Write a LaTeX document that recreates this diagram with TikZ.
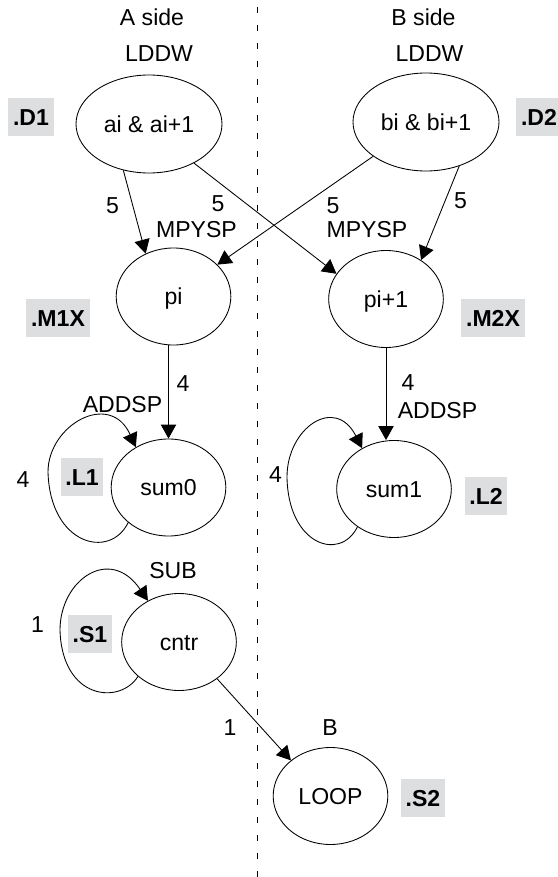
\documentclass[tikz,border=0pt]{standalone}
\usepackage{fontspec}
\setmainfont{Liberation Sans}
\usetikzlibrary{shapes.geometric,arrows.meta}
\definecolor{boxgray}{RGB}{221,222,224}
\begin{document}
\begin{tikzpicture}[x=0.75pt,y=-0.75pt,
  txt/.style={font=\fontsize{17.3}{20}\selectfont},
  lbl/.style={txt,anchor=base,inner sep=0pt},
  unitbox/.style={font=\fontsize{17.3}{20}\selectfont\bfseries,fill=boxgray,
    inner xsep=3.5pt,inner ysep=8pt,text height=12.4pt,text depth=0pt},
  opnode/.style={txt,draw,line width=0.65pt,ellipse,inner sep=0pt,
    text height=12.4pt,text depth=0pt,minimum width=86pt,minimum height=72.75pt},
  bignode/.style={opnode,minimum width=109.5pt,minimum height=73.5pt},
  arr/.style={line width=0.65pt,-{Triangle[length=10.5pt,width=11.5pt]}},
  sideline/.style={line width=0.7pt,dash pattern=on 4.5pt off 9pt}]
\useasboundingbox (0,0) rectangle (557,877);

% separator
\coordinate (top) at (257,7);
\coordinate (bot) at (257,877);
\draw[sideline] (top) -- (bot);

% headings
\node[lbl] (aside) at (152,26) {A side};
\node[lbl] (bside) at (423.5,26) {B side};
\node[lbl] (lddwa) at (159,62) {LDDW};
\node[lbl] (lddwb) at (429.5,62) {LDDW};

% nodes
\node[bignode] (ai) at (149,124) {ai \& ai+1};
\node[bignode] (bi) at (426,122) {bi \& bi+1};
\node[opnode] (pi) at (173.5,296.5) {pi};
\node[opnode] (pi1) at (386,299) {pi+1};
\node[opnode] (sum0) at (168.5,487.5) {sum0};
\node[opnode] (sum1) at (394,489) {sum1};
\node[opnode] (cntr) at (179,642) {cntr};
\node[opnode] (loop) at (330.5,796) {LOOP};

% unit boxes
\node[unitbox] (d1) at (31,117) {.D1};
\node[unitbox] (d2) at (539,117) {.D2};
\node[unitbox] (m1x) at (58,318) {.M1X};
\node[unitbox] (m2x) at (493,318) {.M2X};
\node[unitbox] (l1) at (82,477) {.L1};
\node[unitbox] (l2) at (486,496) {.L2};
\node[unitbox] (s1) at (90,634) {.S1};
\node[unitbox] (s2) at (423,798) {.S2};

% instruction and latency labels
\node[lbl] (l5a) at (112.5,214) {5};
\node[lbl] (l5b) at (218,212) {5};
\node[lbl] (mpya) at (196.5,238) {MPYSP};
\node[lbl] (l5c) at (333,214) {5};
\node[lbl] (l5d) at (460.5,209) {5};
\node[lbl] (mpyb) at (367,238) {MPYSP};
\node[lbl] (l4a) at (183,391) {4};
\node[lbl] (adda) at (122.5,412) {ADDSP};
\node[lbl] (l4b) at (23,487) {4};
\node[lbl] (l4c) at (408,390) {4};
\node[lbl] (addb) at (437.5,418) {ADDSP};
\node[lbl] (l4d) at (275.5,482) {4};
\node[lbl] (sub) at (173,578) {SUB};
\node[lbl] (l1a) at (37.5,632) {1};
\node[lbl] (l1b) at (230,735) {1};
\node[lbl] (bop) at (330,735) {B};

% connectors
\draw[arr] (ai.241) -- (pi.123);
\draw[arr] (ai.319) -- (pi1.153);
\draw[arr] (bi.213) -- (pi.36);
\draw[arr] (bi.307) -- (pi1.48);
\draw[arr] (pi.south -| sum0.north) -- (sum0.north);
\draw[arr] (pi1.south) -- (pi1.south |- sum1.north);
\draw[arr] (cntr.316) -- (loop.138);

% self loops
\draw[arr] (sum0.221) .. controls (110,560) and (50,545) .. (48,472)
  .. controls (48,425) and (110,390) .. (sum0.129);
\draw[arr] (sum1.226) .. controls (340,562) and (288,545) .. (287,477)
  .. controls (287,428) and (335,395) .. (sum1.128);
\draw[arr] (cntr.220) .. controls (120,705) and (62,700) .. (60,630)
  .. controls (60,580) and (110,545) .. (cntr.127);
\end{tikzpicture}
\end{document}
